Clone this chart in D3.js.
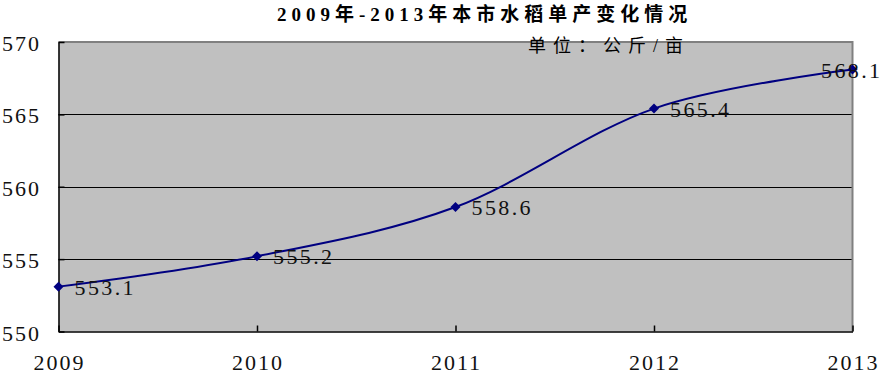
<!DOCTYPE html>
<html>
<head>
  <meta charset="utf-8">
  <title>2009年-2013年本市水稻单产变化情况</title>
  <script src="https://d3js.org/d3.v7.min.js"></script>
  <style>
    body { margin: 0; background: #fff; }
    .num { font-family: "Liberation Serif", "DejaVu Serif", serif; font-size: 22px; fill: #111; letter-spacing: 2px; }
    .title { font-family: "Liberation Serif", "Noto Sans CJK SC", serif; font-weight: bold; font-size: 19px; letter-spacing: 5px; fill: #000; }
    .unit { font-family: "Liberation Serif", "Noto Sans CJK SC", serif; font-size: 18px; letter-spacing: 7px; fill: #000; }
  </style>
</head>
<body>
<script>
  // Data
  var years = ["2009", "2010", "2011", "2012", "2013"];
  var yields = [553.1, 555.2, 558.6, 565.4, 568.1];
  var yTicks = [550, 555, 560, 565, 570];
  var titleText = "2009年-2013年本市水稻单产变化情况";
  var unitText = "单位：公斤/亩";

  // Consts
  var width = 885, height = 375;
  var plot = {left: 58.5, right: 852.5, top: 42, bottom: 331.5};

  var svg = d3.select("body").append("svg")
      .attr("width", width)
      .attr("height", height);

  // Scales
  var x = d3.scalePoint().domain(years).range([plot.left, plot.right]);
  var y = d3.scaleLinear().domain([550, 570]).range([plot.bottom, plot.top]);

  // Plot area
  svg.append("rect")
      .attr("x", plot.left).attr("y", plot.top)
      .attr("width", plot.right - plot.left)
      .attr("height", plot.bottom - plot.top)
      .attr("fill", "#c0c0c0");

  // Gridlines
  svg.append("g")
    .selectAll("line")
    .data(yTicks.slice(1, -1))
    .enter().append("line")
      .attr("x1", plot.left).attr("x2", plot.right)
      .attr("y1", function(d) { return Math.round(y(d)) + 0.5; })
      .attr("y2", function(d) { return Math.round(y(d)) + 0.5; })
      .attr("stroke", "#000").attr("stroke-width", 1);

  // Frame top/right (gray)
  svg.append("path")
      .attr("d", "M" + plot.left + "," + plot.top + "H" + plot.right + "V" + plot.bottom)
      .attr("fill", "none").attr("stroke", "#808080").attr("stroke-width", 2);

  // Axes
  var xAxis = d3.axisBottom(x).tickSizeInner(-6).tickSizeOuter(0).tickFormat("");
  svg.append("g")
      .attr("transform", "translate(0," + plot.bottom + ")")
      .call(xAxis)
      .call(function(g) { g.selectAll("line, path").attr("stroke", "#000").attr("stroke-width", 1.5); });

  var yAxis = d3.axisLeft(y).tickValues(yTicks).tickSizeInner(-6).tickSizeOuter(0).tickFormat("");
  svg.append("g")
      .attr("transform", "translate(" + plot.left + ",0)")
      .call(yAxis)
      .call(function(g) { g.selectAll("line, path").attr("stroke", "#000").attr("stroke-width", 1.5); });

  // Y tick labels
  svg.append("g")
    .selectAll("text")
    .data(yTicks)
    .enter().append("text")
      .attr("class", "num")
      .attr("x", 2)
      .attr("y", function(d) { return y(d) + 9; })
      .text(function(d) { return d; });

  // X tick labels
  svg.append("g")
    .selectAll("text")
    .data(years)
    .enter().append("text")
      .attr("class", "num")
      .attr("text-anchor", "middle")
      .attr("x", function(d) { return x(d) + 1; })
      .attr("y", 370)
      .text(function(d) { return d; });

  // Line
  var pts = years.map(function(d, i) { return {year: d, v: yields[i]}; });
  var line = d3.line()
      .curve(d3.curveCardinal.tension(0))
      .x(function(d) { return x(d.year); })
      .y(function(d) { return y(d.v); });

  svg.append("path")
      .datum(pts)
      .attr("d", line)
      .attr("fill", "none")
      .attr("stroke", "#000080")
      .attr("stroke-width", 2);

  // square diamond marker, like the spreadsheet one
  var diamond = {
    draw: function(ctx, size) {
      var r = Math.sqrt(size / 2);
      ctx.moveTo(0, -r); ctx.lineTo(r, 0); ctx.lineTo(0, r); ctx.lineTo(-r, 0); ctx.closePath();
    }
  };

  svg.append("g")
    .selectAll("path")
    .data(pts)
    .enter().append("path")
      .attr("d", d3.symbol().type(diamond).size(50))
      .attr("transform", function(d) { return "translate(" + x(d.year) + "," + y(d.v) + ")"; })
      .attr("fill", "#000080");

  // Data labels (kept inside the picture on the right)
  svg.append("g")
    .selectAll("text")
    .data(pts)
    .enter().append("text")
      .attr("class", "num")
      .attr("x", function(d) { return Math.min(x(d.year) + 16, width - 64); })
      .attr("y", function(d) { return y(d.v) + 8; })
      .attr("textLength", 61)
      .attr("lengthAdjust", "spacing")
      .text(function(d) { return d.v.toFixed(1); });

  // Title
  svg.append("text")
      .attr("class", "title")
      .attr("x", 277)
      .attr("y", 21)
      .text(titleText);

  svg.append("text")
      .attr("class", "unit")
      .attr("x", 528)
      .attr("y", 52)
      .text(unitText);
</script>
</body>
</html>
